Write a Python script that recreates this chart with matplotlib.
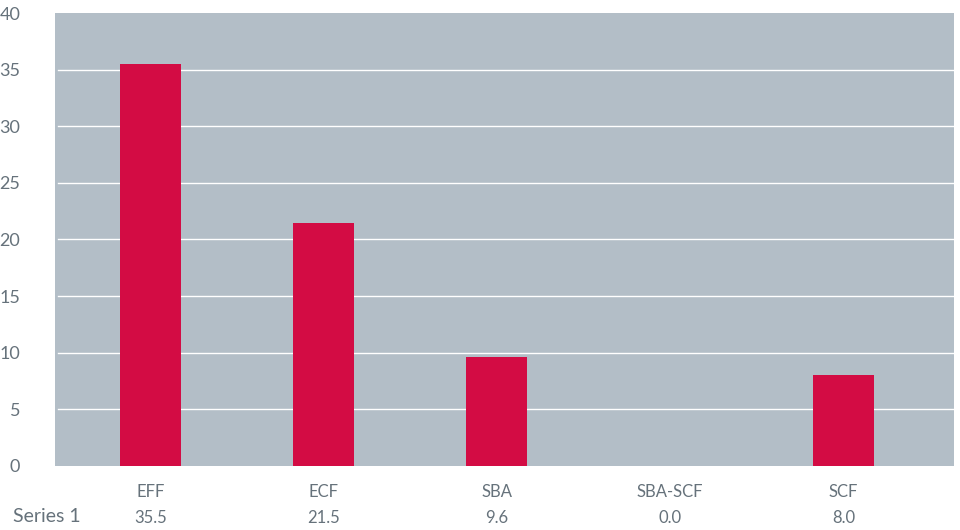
import matplotlib.pyplot as plt
from matplotlib import transforms

# data
categories = ['EFF', 'ECF', 'SBA', 'SBA-SCF', 'SCF']
values = [35.5, 21.5, 9.6, 0.0, 8.0]
series_name = 'Series 1'
yticks = [0, 5, 10, 15, 20, 25, 30, 35, 40]

text_col = '#66727b'
plt.rcParams['font.family'] = ['Lato', 'DejaVu Sans']

fig = plt.figure(figsize=(9.6, 5.3), dpi=100)
ax = fig.add_axes([55 / 960, 64 / 530, 899 / 960, 453 / 530])
ax.set_facecolor('#b3bec7')

x = list(range(len(categories)))
ax.bar(x, values, width=0.352, color='#d30c44', zorder=3)

ax.set_xlim(-0.551, 4.638)
ax.set_ylim(0, 40)
ax.set_yticks(yticks)
ax.set_yticklabels([str(t) for t in yticks], fontsize=13, color=text_col)
for t in yticks[1:-1]:
    ax.axhline(t, xmin=0.003, xmax=1, color='white', lw=1, zorder=2)

ax.set_xticks(x)
ax.set_xticklabels(categories, fontsize=12, color=text_col)
ax.tick_params(axis='both', length=0)
ax.tick_params(axis='x', pad=13)
ax.tick_params(axis='y', pad=25)

for s in ax.spines.values():
    s.set_visible(False)

# data table row under the axis
trans = transforms.blended_transform_factory(ax.transData, fig.transFigure)
for xi, v in zip(x, values):
    ax.text(xi, 12 / 530, f'{v:.1f}', transform=trans, ha='center', va='center',
            fontsize=12, color=text_col)
fig.text(13 / 960, 13 / 530, series_name, ha='left', va='center', fontsize=14, color=text_col)

fig.savefig('out.png', dpi=100)
